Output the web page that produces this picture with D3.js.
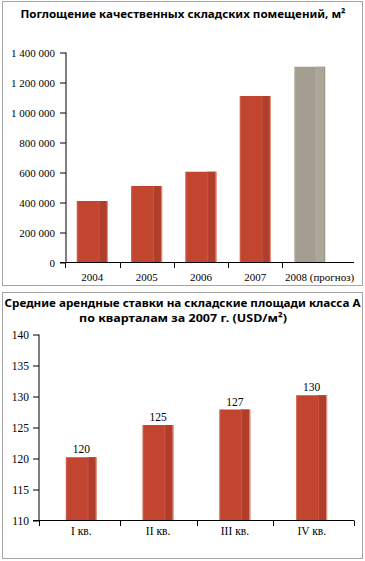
<!DOCTYPE html>
<html>
<head>
<meta charset="utf-8">
<script src="https://cdn.jsdelivr.net/npm/d3@7"></script>
<style>
  body { margin: 0; background: #fff; }
  svg { display: block; }
</style>
</head>
<body>
<svg width="365" height="561"></svg>
<script>
// data: absorption of quality warehouse space, m2
var years = ["2004", "2005", "2006", "2007", "2008"];
var yearLabels = ["2004", "2005", "2006", "2007", "2008 (прогноз)"];
var absorption = [410000, 510000, 605000, 1110000, 1305000];
var forecast = [false, false, false, false, true];
var absTicks = [0, 200000, 400000, 600000, 800000, 1000000, 1200000, 1400000];

// data: class A rents by quarter 2007, USD/m2
var quarters = ["I кв.", "II кв.", "III кв.", "IV кв."];
var rents = [120.2, 125.4, 127.9, 130.2];
var rentLabels = ["120", "125", "127", "130"];
var rentTicks = [110, 115, 120, 125, 130, 135, 140];

var svg = d3.select("svg");
var serif = "'Liberation Serif', 'Times New Roman', serif";
var sans = "'Noto Sans', 'DejaVu Sans', sans-serif";

// frames
svg.append("rect").attr("x", 2.5).attr("y", 1.5).attr("width", 360).attr("height", 284)
  .attr("fill", "none").attr("stroke", "#a5a5a5");
svg.append("rect").attr("x", 2.5).attr("y", 292.5).attr("width", 360).attr("height", 266)
  .attr("fill", "none").attr("stroke", "#a5a5a5");

function title(txt, x, y, len) {
  svg.append("text").attr("x", x).attr("y", y)
    .attr("text-anchor", "middle")
    .attr("textLength", len).attr("lengthAdjust", "spacingAndGlyphs")
    .style("font-family", sans).style("font-weight", "bold").style("font-size", "11px")
    .text(txt);
}
title("Поглощение качественных складских помещений, м²", 183, 18, 325);
title("Средние арендные ставки на складские площади класса А", 182.5, 307, 356);
title("по кварталам за 2007 г. (USD/м²)", 183, 322, 208);

// bar with a bit of shading like the original
function bar(g, x, y, w, h, grey) {
  var main = grey ? "#a39e8f" : "#c2452f";
  var stripe = grey ? "#aba697" : "#b13e2a";
  g.append("rect").attr("x", x).attr("y", y).attr("width", w).attr("height", h).attr("fill", main);
  g.append("rect").attr("x", x + w * 0.7).attr("y", y).attr("width", w * 0.27).attr("height", h).attr("fill", stripe);
  g.append("rect").attr("x", x + w * 0.7).attr("y", y).attr("width", 1).attr("height", h)
    .attr("fill", grey ? "#b3ae9f" : "#cf5640");
  g.append("rect").attr("x", x + w - 1).attr("y", y).attr("width", 1).attr("height", h)
    .attr("fill", grey ? "#98937f" : "#e49a88");
  g.append("rect").attr("x", x).attr("y", y).attr("width", 1).attr("height", h)
    .attr("fill", grey ? "#c9c5b9" : "#d0604c");
}

// ---- top chart ----
var x1 = d3.scaleBand().domain(years).range([66, 336]).paddingInner(0.43).paddingOuter(0.2);
var y1 = d3.scaleLinear().domain([0, 1400000]).range([262.5, 52.5]);
var fmt = function(d) { return d3.format(",")(d).replace(/,/g, " "); };

var g1 = svg.append("g");
years.forEach(function(yr, i) {
  bar(g1, x1(yr), y1(absorption[i]), x1.bandwidth(), y1(0) - y1(absorption[i]), forecast[i]);
});

var yAx1 = g1.append("g").attr("transform", "translate(66,0)")
  .call(d3.axisLeft(y1).tickValues(absTicks).tickFormat(fmt).tickSize(6).tickPadding(5));
yAx1.select(".domain").attr("d", "M0,52.5V262.5");

g1.append("line").attr("x1", 60).attr("x2", 354).attr("y1", 262.5).attr("y2", 262.5).attr("stroke", "#000");
g1.selectAll(".xt").data(years).enter().append("line")
  .attr("x1", function(d) { return Math.round(x1(d) - x1.step() * x1.paddingInner() / 2) + 0.5; })
  .attr("x2", function(d) { return Math.round(x1(d) - x1.step() * x1.paddingInner() / 2) + 0.5; })
  .attr("y1", 262.5).attr("y2", 268).attr("stroke", "#000");
g1.selectAll(".xl").data(years).enter().append("text")
  .attr("x", function(d, i) { return x1(d) + x1.bandwidth() / 2 + (forecast[i] ? 10 : 0); })
  .attr("y", 281).attr("text-anchor", "middle")
  .style("font-family", serif).style("font-size", "11px")
  .text(function(d, i) { return yearLabels[i]; });

// ---- bottom chart ----
var x2 = d3.scaleBand().domain(quarters).range([39, 354]).paddingInner(0.6).paddingOuter(0.35);
var y2 = d3.scaleLinear().domain([110, 140]).range([520.5, 334.5]);

var g2 = svg.append("g");
quarters.forEach(function(q, i) {
  bar(g2, x2(q), y2(rents[i]), x2.bandwidth(), y2(110) - y2(rents[i]), false);
  g2.append("text").attr("x", x2(q) + x2.bandwidth() / 2).attr("y", y2(rents[i]) - 4)
    .attr("text-anchor", "middle")
    .style("font-family", serif).style("font-size", "11.5px")
    .text(rentLabels[i]);
});

var yAx2 = g2.append("g").attr("transform", "translate(39,0)")
  .call(d3.axisLeft(y2).tickValues(rentTicks).tickSize(6).tickPadding(4));
yAx2.select(".domain").attr("d", "M0,334.5V520.5");

g2.append("line").attr("x1", 33).attr("x2", 354).attr("y1", 520.5).attr("y2", 520.5).attr("stroke", "#000");
var bounds2 = quarters.map(function(q) { return x2(q) - x2.step() * x2.paddingInner() / 2; });
bounds2[0] = 39;
bounds2.push(354);
g2.selectAll(".xt").data(bounds2).enter().append("line")
  .attr("x1", function(d) { return Math.round(d) + 0.5; })
  .attr("x2", function(d) { return Math.round(d) + 0.5; })
  .attr("y1", 520.5).attr("y2", 526).attr("stroke", "#000");
g2.selectAll(".xl").data(quarters).enter().append("text")
  .attr("x", function(d) { return x2(d) + x2.bandwidth() / 2; })
  .attr("y", 535).attr("text-anchor", "middle")
  .style("font-family", serif).style("font-size", "11.5px")
  .text(function(d) { return d; });

svg.selectAll(".tick text").style("font-family", serif).style("font-size", "11px").attr("fill", "#000");
yAx2.selectAll(".tick text").style("font-size", "11.5px");
svg.selectAll(".tick line").attr("stroke", "#000");
</script>
</body>
</html>
